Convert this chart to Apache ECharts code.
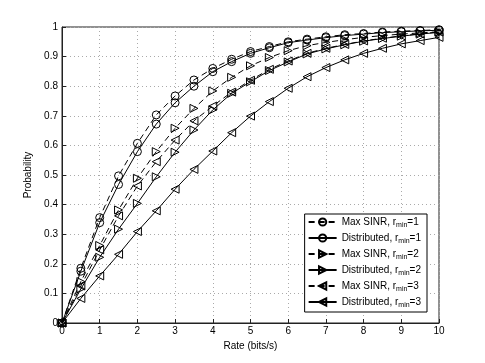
<!DOCTYPE html>
<html>
<head>
<meta charset="utf-8">
<script src="https://cdn.jsdelivr.net/npm/echarts@6/dist/echarts.min.js"></script>
<style>
html,body{margin:0;padding:0;background:#fff;}
#chart{width:485px;height:363px;}
</style>
</head>
<body>
<div id="chart"></div>
<script>
// rate axis (bits/s)
var rate = [0,0.5,1,1.5,2,2.5,3,3.5,4,4.5,5,5.5,6,6.5,7,7.5,8,8.5,9,9.5,10];

var maxSinr1 = [0,0.185,0.356,0.497,0.607,0.703,0.767,0.821,0.860,0.891,0.917,0.934,0.950,0.959,0.967,0.974,0.978,0.983,0.986,0.988,0.991];
var dist1    = [0,0.175,0.339,0.468,0.579,0.672,0.744,0.800,0.849,0.883,0.911,0.930,0.947,0.956,0.964,0.971,0.976,0.981,0.984,0.987,0.989];
var maxSinr2 = [0,0.140,0.262,0.382,0.489,0.579,0.658,0.725,0.784,0.830,0.869,0.897,0.920,0.937,0.948,0.957,0.965,0.971,0.976,0.980,0.984];
var dist2    = [0,0.115,0.222,0.317,0.404,0.494,0.577,0.652,0.720,0.776,0.815,0.853,0.882,0.909,0.926,0.940,0.952,0.961,0.969,0.976,0.982];
var maxSinr3 = [0,0.125,0.247,0.362,0.463,0.545,0.618,0.683,0.733,0.780,0.820,0.857,0.885,0.911,0.928,0.941,0.953,0.962,0.970,0.977,0.983];
var dist3    = [0,0.083,0.159,0.232,0.309,0.379,0.452,0.519,0.581,0.643,0.699,0.748,0.793,0.832,0.863,0.889,0.911,0.928,0.943,0.954,0.965];

var names = ['Max SINR, r{s|min}=1','Distributed, r{s|min}=1','Max SINR, r{s|min}=2','Distributed, r{s|min}=2','Max SINR, r{s|min}=3','Distributed, r{s|min}=3'];
var values = [maxSinr1,dist1,maxSinr2,dist2,maxSinr3,dist3];
var symbols = ['circle','circle','triangle','triangle','triangle','triangle'];
var rotates = [0,0,-90,-90,90,90];

var font = 'Liberation Sans, Arial, sans-serif';

var series = names.map(function(n,i){
	return {
		name: n,
		type: 'line',
		data: rate.map(function(r,j){ return [r, values[i][j]]; }),
		symbol: symbols[i],
		symbolSize: 8,
		symbolRotate: rotates[i],
		showAllSymbol: true,
		lineStyle: {color:'#000', width:1, type: i%2==0 ? [6,4] : 'solid'},
		itemStyle: {color:'rgba(255,255,255,0)', borderColor:'#000', borderWidth:1},
		emphasis: {disabled:true},
		animation: false
	};
});

var myChart = echarts.init(document.getElementById('chart'));
var chartOption = {
	animation: false,
	grid: {left:62, right:46, top:27, bottom:40, show:true, borderColor:'#222', borderWidth:1},
	xAxis: {
		type:'value', min:0, max:10, interval:1,
		name:'Rate (bits/s)', nameLocation:'middle', nameGap:14,
		nameTextStyle:{fontFamily:font, fontSize:10, color:'#000'},
		axisLine:{lineStyle:{color:'#222'}},
		axisTick:{inside:true, length:4, lineStyle:{color:'#222'}},
		axisLabel:{fontFamily:font, fontSize:10, color:'#000', margin:3},
		splitLine:{lineStyle:{color:'#aaa', type:[1,3]}}
	},
	yAxis: {
		type:'value', min:0, max:1, interval:0.1,
		name:'Probability', nameLocation:'middle', nameGap:22,
		nameTextStyle:{fontFamily:font, fontSize:10, color:'#000'},
		axisLine:{lineStyle:{color:'#222'}},
		axisTick:{inside:true, length:4, lineStyle:{color:'#222'}},
		axisLabel:{fontFamily:font, fontSize:10, color:'#000', margin:4,
			formatter:function(v){ return v==0 ? '0' : (v==1 ? '1' : v.toFixed(1)); }},
		splitLine:{lineStyle:{color:'#aaa', type:[1,3]}}
	},
	legend: {
		orient:'vertical', right:58, bottom:51,
		backgroundColor:'#fff', borderColor:'#000', borderWidth:1,
		padding:[3,6,3,3], itemGap:4, itemWidth:28, itemHeight:9,
		data: names,
		textStyle:{fontFamily:font, fontSize:10, color:'#000',
			rich:{s:{fontFamily:font, fontSize:7, verticalAlign:'bottom', padding:[7,0,0,0], color:'#000'}}}
	},
	series: series
};
myChart.setOption(chartOption);
</script>
</body>
</html>
